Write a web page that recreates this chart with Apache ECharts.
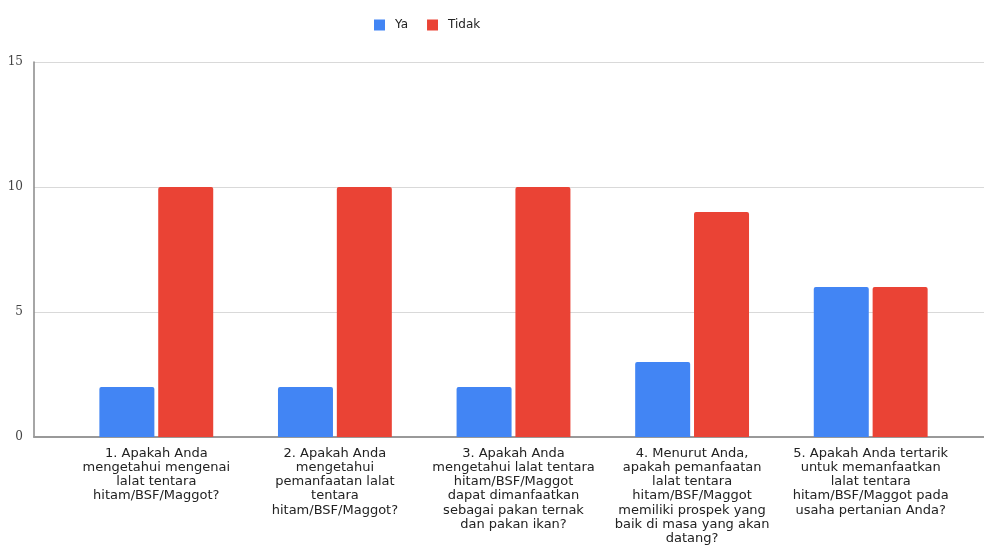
<!DOCTYPE html>
<html><head><meta charset="utf-8">
<script src="https://cdn.jsdelivr.net/npm/echarts@6/dist/echarts.min.js"></script>
<style>html,body{margin:0;padding:0;background:#fff}#c{width:984px;height:556px}</style>
</head><body><div id="c"></div>
<script>
var categories = [
  "1. Apakah Anda\nmengetahui mengenai\nlalat tentara\nhitam/BSF/Maggot?",
  "2. Apakah Anda\nmengetahui\npemanfaatan lalat\ntentara\nhitam/BSF/Maggot?",
  "3. Apakah Anda\nmengetahui lalat tentara\nhitam/BSF/Maggot\ndapat dimanfaatkan\nsebagai pakan ternak\ndan pakan ikan?",
  "4. Menurut Anda,\napakah pemanfaatan\nlalat tentara\nhitam/BSF/Maggot\nmemiliki prospek yang\nbaik di masa yang akan\ndatang?",
  "5. Apakah Anda tertarik\nuntuk memanfaatkan\nlalat tentara\nhitam/BSF/Maggot pada\nusaha pertanian Anda?"
];
var seriesNames = ["Ya", "Tidak"];
var yaValues = [2, 2, 2, 3, 6];
var tidakValues = [10, 10, 10, 9, 6];
var yTicks = [0, 5, 10, 15];

var chart = echarts.init(document.getElementById('c'));
chart.setOption({
  animation: false,
  textStyle: { fontFamily: 'DejaVu Sans, Arial, sans-serif' },
  legend: {
    data: seriesNames,
    top: 14, left: 369,
    itemWidth: 11, itemHeight: 11, itemGap: 19,
    icon: 'rect',
    textStyle: { fontSize: 12, color: '#222', padding: [0, 0, 0, 5] }
  },
  grid: [
    { left: 34, right: 0, top: 62, bottom: 119 },
    { left: 67, right: 24, top: 62, bottom: 119 }
  ],
  xAxis: [
    { gridIndex: 0, type: 'value', min: 0, max: 1,
      axisLine: { show: true, onZero: false, lineStyle: { color: '#999', width: 2 } },
      axisTick: { show: false }, axisLabel: { show: false }, splitLine: { show: false } },
    { gridIndex: 1, type: 'category', data: categories,
      axisLine: { show: false }, axisTick: { show: false },
      axisLabel: { interval: 0, margin: 9, fontSize: 13, lineHeight: 14.3, color: '#222', align: 'center', verticalAlign: 'top' } }
  ],
  yAxis: [
    { gridIndex: 0, type: 'value', min: yTicks[0], max: yTicks[yTicks.length - 1], interval: 5,
      axisLine: { show: true, lineStyle: { color: '#888', width: 1.5 } },
      axisTick: { show: false },
      axisLabel: { margin: 11, fontSize: 12, color: '#444', fontFamily: 'DejaVu Serif, serif' },
      splitLine: { show: true, lineStyle: { color: '#d9d9d9', width: 1 } } },
    { gridIndex: 1, type: 'value', min: yTicks[0], max: yTicks[yTicks.length - 1], interval: 5,
      axisLine: { show: false }, axisTick: { show: false }, axisLabel: { show: false }, splitLine: { show: false } }
  ],
  series: [
    { name: seriesNames[0], type: 'bar', xAxisIndex: 1, yAxisIndex: 1, data: yaValues,
      barWidth: 55, barGap: '7%', itemStyle: { color: '#4285F4', borderRadius: [2, 2, 0, 0] } },
    { name: seriesNames[1], type: 'bar', xAxisIndex: 1, yAxisIndex: 1, data: tidakValues,
      barWidth: 55, barGap: '7%', itemStyle: { color: '#EA4335', borderRadius: [2, 2, 0, 0] } }
  ]
});
</script></body></html>
